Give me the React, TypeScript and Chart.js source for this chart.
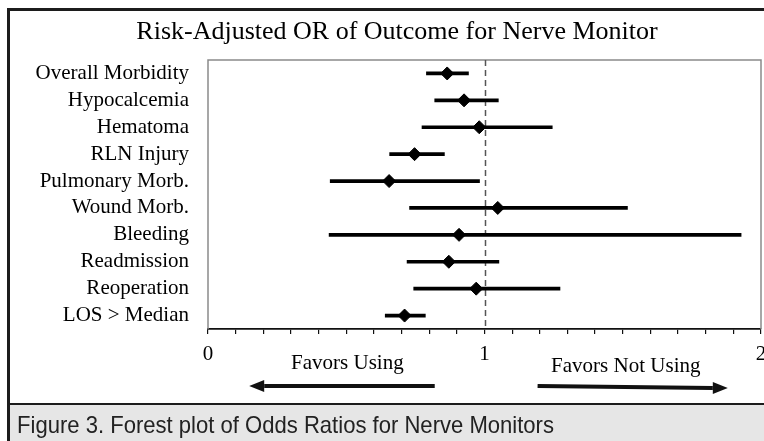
import React, { useEffect, useRef } from 'react';
import { Chart, registerables } from 'chart.js';

Chart.register(...registerables);

const categories = [
  'Overall Morbidity',
  'Hypocalcemia',
  'Hematoma',
  'RLN Injury',
  'Pulmonary Morb.',
  'Wound Morb.',
  'Bleeding',
  'Readmission',
  'Reoperation',
  'LOS > Median',
];
const oddsRatios = [0.865, 0.926, 0.981, 0.747, 0.655, 1.048, 0.908, 0.871, 0.97, 0.711];
const lowerCI = [0.79, 0.82, 0.774, 0.657, 0.442, 0.729, 0.438, 0.72, 0.744, 0.641];
const upperCI = [0.942, 1.05, 1.245, 0.855, 0.982, 1.517, 1.928, 1.052, 1.273, 0.786];
const xTickLabels = [0, 1, 2];
const xMin = 0;
const xMax = 2;
const xStep = 0.1;
const referenceValue = 1;

const titleText = 'Risk-Adjusted OR of Outcome for Nerve Monitor';
const captionText = 'Figure 3. Forest plot of Odds Ratios for Nerve Monitors';
const favorsLeftText = 'Favors Using';
const favorsRightText = 'Favors Not Using';
// arrow extents and text centres in data units of the OR axis
const favorsLeftArrow = [0.82, 0.149];
const favorsRightArrow = [1.192, 1.88];
const favorsLeftCenter = 0.504;
const favorsRightCenter = 1.511;

const SERIF = "'Liberation Serif', 'Times New Roman', serif";
const SANS = "'Liberation Sans Narrow', 'Liberation Sans', Arial, sans-serif";

const W = 775;
const H = 441;

const decorPlugin = {
  id: 'decor',
  beforeDraw(chart: any) {
    const ctx = chart.ctx;
    ctx.save();
    ctx.fillStyle = '#ffffff';
    ctx.fillRect(0, 0, W, H);
    // caption background
    ctx.fillStyle = '#e6e6e6';
    ctx.fillRect(10, 405, W, H - 405);
    // frame
    ctx.fillStyle = '#1c1c1c';
    ctx.fillRect(7, 8, W, 3);
    ctx.fillRect(7, 8, 3, H);
    ctx.fillRect(7, 403, W, 2);
    ctx.restore();
  },
  beforeDatasetsDraw(chart: any) {
    const ctx = chart.ctx;
    const a = chart.chartArea;
    const xs = chart.scales.x;
    ctx.save();
    ctx.strokeStyle = '#8a8a8a';
    ctx.lineWidth = 1.5;
    ctx.beginPath();
    ctx.moveTo(a.left, a.bottom);
    ctx.lineTo(a.left, a.top);
    ctx.lineTo(a.right, a.top);
    ctx.lineTo(a.right, a.bottom);
    ctx.stroke();
    const rx = Math.round(xs.getPixelForValue(referenceValue)) + 0.5;
    ctx.strokeStyle = '#555555';
    ctx.lineWidth = 1.5;
    ctx.setLineDash([6, 4]);
    ctx.beginPath();
    ctx.moveTo(rx, a.top);
    ctx.lineTo(rx, a.bottom);
    ctx.stroke();
    ctx.restore();
  },
  afterDraw(chart: any) {
    const ctx = chart.ctx;
    const xs = chart.scales.x;
    ctx.save();
    // title
    ctx.fillStyle = '#000000';
    ctx.font = `26px ${SERIF}`;
    ctx.textAlign = 'center';
    ctx.textBaseline = 'alphabetic';
    ctx.fillText(titleText, 397, 39);
    // favors texts
    ctx.font = `21px ${SERIF}`;
    ctx.fillText(favorsLeftText, xs.getPixelForValue(favorsLeftCenter), 369);
    ctx.fillText(favorsRightText, xs.getPixelForValue(favorsRightCenter), 372);
    // arrows
    const drawArrow = (fromV: number, toV: number, y0: number, y1: number) => {
      const x0 = xs.getPixelForValue(fromV);
      const x1 = xs.getPixelForValue(toV);
      const dir = x1 > x0 ? 1 : -1;
      const head = 15;
      ctx.strokeStyle = '#111111';
      ctx.fillStyle = '#111111';
      ctx.lineWidth = 4;
      ctx.beginPath();
      ctx.moveTo(x0, y0);
      ctx.lineTo(x1 - dir * head, y1);
      ctx.stroke();
      ctx.beginPath();
      ctx.moveTo(x1, y1);
      ctx.lineTo(x1 - dir * head, y1 - 6);
      ctx.lineTo(x1 - dir * head, y1 + 6);
      ctx.closePath();
      ctx.fill();
    };
    drawArrow(favorsLeftArrow[0], favorsLeftArrow[1], 386, 386);
    drawArrow(favorsRightArrow[0], favorsRightArrow[1], 386, 388);
    // caption
    ctx.fillStyle = '#222222';
    ctx.font = `24px ${SANS}`;
    ctx.textAlign = 'left';
    const mw = ctx.measureText(captionText).width;
    const sx = 537 / mw;
    ctx.translate(17, 433);
    ctx.scale(sx, 1);
    ctx.fillText(captionText, 0, 0);
    ctx.restore();
  },
};

export default function App() {
  const ref = useRef<HTMLCanvasElement | null>(null);
  useEffect(() => {
    if (!ref.current) return;
    const chart = new Chart(ref.current, {
      type: 'bar',
      data: {
        labels: categories,
        datasets: [
          {
            type: 'bar',
            label: '95% CI',
            data: lowerCI.map((l, i) => [l, upperCI[i]]) as any,
            backgroundColor: '#000000',
            borderWidth: 0,
            barThickness: 3,
            order: 2,
          } as any,
          {
            type: 'line',
            label: 'Odds ratio',
            indexAxis: 'y',
            data: oddsRatios.map((v, i) => ({ x: v, y: categories[i] })) as any,
            showLine: false,
            pointStyle: 'rectRot',
            pointRadius: 6.5,
            pointBackgroundColor: '#000000',
            pointBorderColor: '#000000',
            pointBorderWidth: 1,
            order: 1,
          } as any,
        ],
      },
      options: {
        indexAxis: 'y',
        animation: false,
        responsive: false,
        maintainAspectRatio: false,
        devicePixelRatio: 1,
        layout: { padding: { left: 10, right: W - 761, top: 60, bottom: 0 } },
        plugins: {
          legend: { display: false },
          tooltip: { enabled: false },
          title: { display: false },
        },
        scales: {
          y: {
            type: 'category',
            offset: true,
            grid: { display: true, drawOnChartArea: false, drawTicks: false },
            border: { display: false },
            ticks: {
              font: { family: SERIF, size: 21 },
              color: '#000000',
              padding: 19,
              autoSkip: false,
            },
            afterFit: (s: any) => {
              s.width = 198;
            },
          },
          x: {
            type: 'linear',
            min: xMin,
            max: xMax,
            grid: {
              drawOnChartArea: false,
              drawTicks: true,
              tickLength: 5,
              color: '#111111',
              lineWidth: 1.2,
            },
            border: { display: true, color: '#111111', width: 1.8 },
            ticks: {
              stepSize: xStep,
              autoSkip: false,
              maxRotation: 0,
              padding: 8,
              font: { family: SERIF, size: 21 },
              color: '#000000',
              callback: (v: any) => {
                const n = Number(v);
                const r = Math.round(n);
                return Math.abs(n - r) < 1e-6 && xTickLabels.includes(r) ? String(r) : '';
              },
            },
            afterFit: (s: any) => {
              s.height = 112;
            },
          },
        },
      } as any,
      plugins: [decorPlugin],
    });
    return () => chart.destroy();
  }, []);
  return (
    <div
      style={{
        position: 'absolute',
        left: 0,
        top: 0,
        width: 764,
        height: 441,
        overflow: 'hidden',
        background: '#ffffff',
      }}
    >
      <canvas ref={ref} width={W} height={H} style={{ width: W, height: H, display: 'block' }} />
    </div>
  );
}
